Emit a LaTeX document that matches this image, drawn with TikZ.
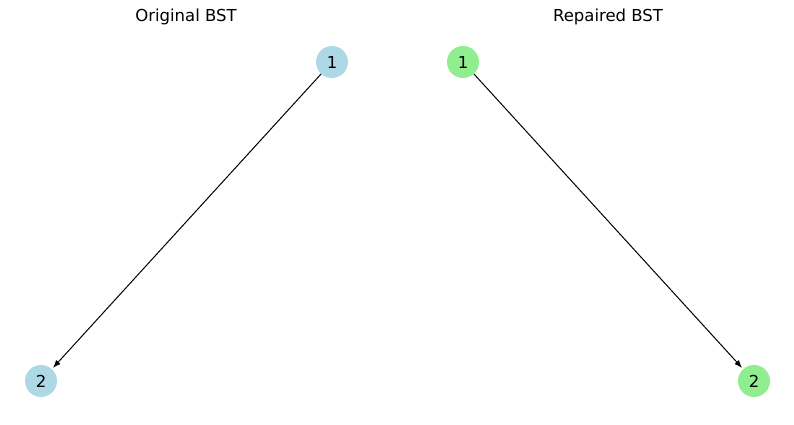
\documentclass[tikz,border=0pt]{standalone}
\usepackage{fontspec}
\setmainfont{DejaVu Sans}
\usetikzlibrary{arrows.meta}
\definecolor{lblue}{HTML}{ADD8E6}
\definecolor{lgreen}{HTML}{90EE90}
\begin{document}
\begin{tikzpicture}[x=1pt,y=-1pt,
  vtx/.style={circle,minimum size=32pt,inner sep=0pt,font=\fontsize{16.5}{19}\selectfont},
  edge/.style={draw=black,line width=1pt,-{Latex[length=8pt,width=6pt]},shorten >=1.5pt},
  ttl/.style={font=\fontsize{16.5}{19}\selectfont}]
\useasboundingbox (0,0) rectangle (794,425);
\node[ttl] (t1) at (186,17) {Original BST};
\node[ttl] (t2) at (608,17) {Repaired BST};
\node[vtx,fill=lblue] (a1) at (332,62) {1};
\node[vtx,fill=lblue] (a2) at (41,381) {2};
\node[vtx,fill=lgreen] (b1) at (463,62) {1};
\node[vtx,fill=lgreen] (b2) at (754,381) {2};
\draw[edge] (a1) -- (a2);
\draw[edge] (b1) -- (b2);
\end{tikzpicture}
\end{document}
